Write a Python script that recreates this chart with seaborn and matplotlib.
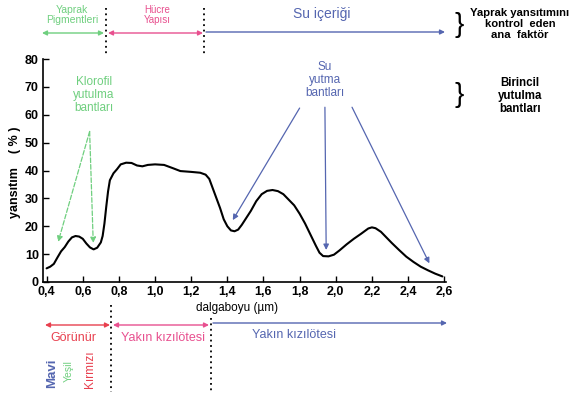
import numpy as np
import pandas as pd
import matplotlib
matplotlib.use("Agg")
import matplotlib.pyplot as plt
import seaborn as sns

# ---- data ----
wavelength = [0.40, 0.42, 0.44, 0.46, 0.48, 0.50, 0.52, 0.54, 0.56, 0.58, 0.60, 0.62, 0.64,
              0.66, 0.68, 0.70, 0.71, 0.72, 0.73, 0.74, 0.75, 0.77, 0.79, 0.81, 0.84, 0.87,
              0.90, 0.93, 0.96, 1.00, 1.05, 1.10, 1.14, 1.20, 1.25, 1.28, 1.30, 1.32, 1.34,
              1.36, 1.38, 1.40, 1.42, 1.44, 1.46, 1.48, 1.50, 1.53, 1.56, 1.59, 1.62, 1.65,
              1.68, 1.71, 1.74, 1.77, 1.80, 1.83, 1.86, 1.89, 1.91, 1.93, 1.96, 1.99, 2.02,
              2.06, 2.10, 2.14, 2.18, 2.20, 2.22, 2.25, 2.28, 2.31, 2.35, 2.39, 2.43, 2.47,
              2.51, 2.55, 2.59]
reflectance = [4.9, 5.5, 6.5, 8.8, 11.0, 12.5, 14.5, 16.0, 16.5, 16.3, 15.5, 13.8, 12.4,
               11.7, 12.3, 14.2, 16.5, 21.0, 27.0, 32.5, 36.5, 39.0, 40.5, 42.2, 42.8, 42.7,
               41.8, 41.5, 42.0, 42.2, 42.0, 40.8, 39.8, 39.5, 39.2, 38.5, 37.0, 33.5, 30.0,
               26.5, 22.5, 20.0, 18.5, 18.2, 18.8, 20.5, 22.5, 25.5, 29.0, 31.5, 32.7, 33.0,
               32.6, 31.5, 29.5, 27.5, 24.5, 21.0, 17.0, 13.0, 10.5, 9.3, 9.2, 9.8, 11.3,
               13.5, 15.5, 17.3, 19.2, 19.6, 19.3, 18.0, 16.0, 14.0, 11.5, 9.1, 7.2, 5.5,
               4.2, 3.0, 2.0]
x_ticks = [0.4, 0.6, 0.8, 1.0, 1.2, 1.4, 1.6, 1.8, 2.0, 2.2, 2.4, 2.6]
x_tick_labels = ["0,4", "0,6", "0,8", "1,0", "1,2", "1,4", "1,6", "1,8", "2,0", "2,2", "2,4", "2,6"]
y_ticks = [0, 10, 20, 30, 40, 50, 60, 70, 80]

df = pd.DataFrame({"dalgaboyu": wavelength, "yansitim": reflectance})

GREEN = "#6fcf7f"
PINK = "#e8508f"
BLUE = "#5566b0"
RED = "#e8404f"
FONT = ["Liberation Sans", "DejaVu Sans"]

sns.set_theme(style="white")
plt.rcParams["font.family"] = FONT

W, H = 571, 397
fig = plt.figure(figsize=(W / 100, H / 100), dpi=100)
ax = fig.add_axes([43 / W, 1 - 282 / H, 403 / W, 223 / H])

sns.lineplot(data=df, x="dalgaboyu", y="yansitim", ax=ax, color="black", linewidth=1.5)

ax.set_xlim(0.38, 2.61)
ax.set_ylim(0, 80)
ax.set_xticks(x_ticks)
ax.set_xticklabels(x_tick_labels)
ax.set_yticks(y_ticks)
ax.tick_params(axis="both", direction="in", length=4, width=1, colors="black",
               labelsize=9, bottom=True, left=True, pad=3)
for lab in ax.get_xticklabels() + ax.get_yticklabels():
    lab.set_fontweight("bold")
for s in ["top", "right"]:
    ax.spines[s].set_visible(False)
for s in ["left", "bottom"]:
    ax.spines[s].set_color("black")
    ax.spines[s].set_linewidth(1.2)
ax.set_xlabel("")
ax.set_ylabel("")

def px(x, y):
    return x / W, 1 - y / H

# axis labels
fig.text(*px(237, 308), "dalgaboyu (µm)", ha="center", va="center", fontsize=8.5, color="black")
fig.text(*px(15, 172), "yansıtım    ( % )", ha="center", va="center", rotation=90,
         fontsize=9, fontweight="bold", color="black")

# annotation arrows inside the plot
def arrow(xy, xytext, color, ls="-"):
    ax.annotate("", xy=xy, xytext=xytext,
                arrowprops=dict(arrowstyle="-|>", color=color, lw=0.9, linestyle=ls,
                                mutation_scale=8, shrinkA=0, shrinkB=0))

ax.text(0.66, 67, "Klorofil\nyutulma\nbantları", color=GREEN, ha="center", va="center",
        fontsize=8.5, linespacing=1.1)
arrow((0.464, 14.4), (0.638, 54), GREEN, "--")
arrow((0.658, 14.0), (0.638, 54), GREEN, "--")

ax.text(1.94, 72.5, "Su\nyutma\nbantları", color=BLUE, ha="center", va="center",
        fontsize=8.5, linespacing=1.1)
arrow((1.43, 22.2), (1.80, 62.4), BLUE)
arrow((1.947, 11.5), (1.94, 62.7), BLUE)
arrow((2.518, 6.7), (2.09, 62.7), BLUE)

# top band arrows
def fig_arrow(x0, x1, y, color, both=True):
    style = "<|-|>" if both else "-|>"
    fig.add_artist(matplotlib.patches.FancyArrowPatch(
        px(x0, y), px(x1, y), transform=fig.transFigure, arrowstyle=style,
        color=color, lw=1.0, mutation_scale=7, shrinkA=0, shrinkB=0))

fig_arrow(42, 104, 33, GREEN)
fig_arrow(108, 203, 33, PINK)
fig_arrow(206, 445, 32, BLUE, both=False)
fig.text(*px(72, 15), "Yaprak\nPigmentleri", color=GREEN, ha="center", va="center",
         fontsize=7.5, linespacing=1.1)
fig.text(*px(157, 15), "Hücre\nYapısı", color=PINK, ha="center", va="center",
         fontsize=7, linespacing=1.1)
fig.text(*px(322, 14), "Su içeriği", color=BLUE, ha="center", va="center", fontsize=10)

# dotted separators
for xx, y0, y1 in [(106, 8, 55), (204, 8, 55), (111, 305, 392), (211, 318, 392)]:
    fig.add_artist(matplotlib.lines.Line2D([xx / W, xx / W], [1 - y0 / H, 1 - y1 / H],
                                           transform=fig.transFigure, color="black",
                                           lw=1.3, linestyle=(0, (1, 2))))

# right side notes
fig.text(*px(459, 25), "}", ha="center", va="center", fontsize=20, color="black",
         fontweight="light")
fig.text(*px(520, 24), "Yaprak yansıtımını\nkontrol  eden\nana  faktör", ha="center",
         va="center", fontsize=8.1, fontweight="bold", linespacing=1.15, color="black")
fig.text(*px(459, 95), "}", ha="center", va="center", fontsize=20, color="black",
         fontweight="light")
fig.text(*px(520, 96), "Birincil\nyutulma\nbantları", ha="center", va="center",
         fontsize=8.3, fontweight="bold", linespacing=1.15, color="black")

# bottom band arrows
fig_arrow(45, 110, 325, RED)
fig_arrow(113, 209, 325, PINK)
fig_arrow(213, 447, 323, BLUE, both=False)
fig.text(*px(73, 338), "Görünür", color=RED, ha="center", va="center", fontsize=9)
fig.text(*px(163, 338), "Yakın kızılötesi", color=PINK, ha="center", va="center", fontsize=9)
fig.text(*px(294, 335), "Yakın kızılötesi", color=BLUE, ha="center", va="center", fontsize=9)
fig.text(*px(52, 373), "Mavi", color=BLUE, ha="center", va="center", rotation=90,
         fontsize=9.5, fontweight="bold")
fig.text(*px(69, 371), "Yeşil", color=GREEN, ha="center", va="center", rotation=90,
         fontsize=7.5)
fig.text(*px(90, 369), "Kırmızı", color=RED, ha="center", va="center", rotation=90,
         fontsize=8.5)

fig.savefig("out.png", dpi=100)
